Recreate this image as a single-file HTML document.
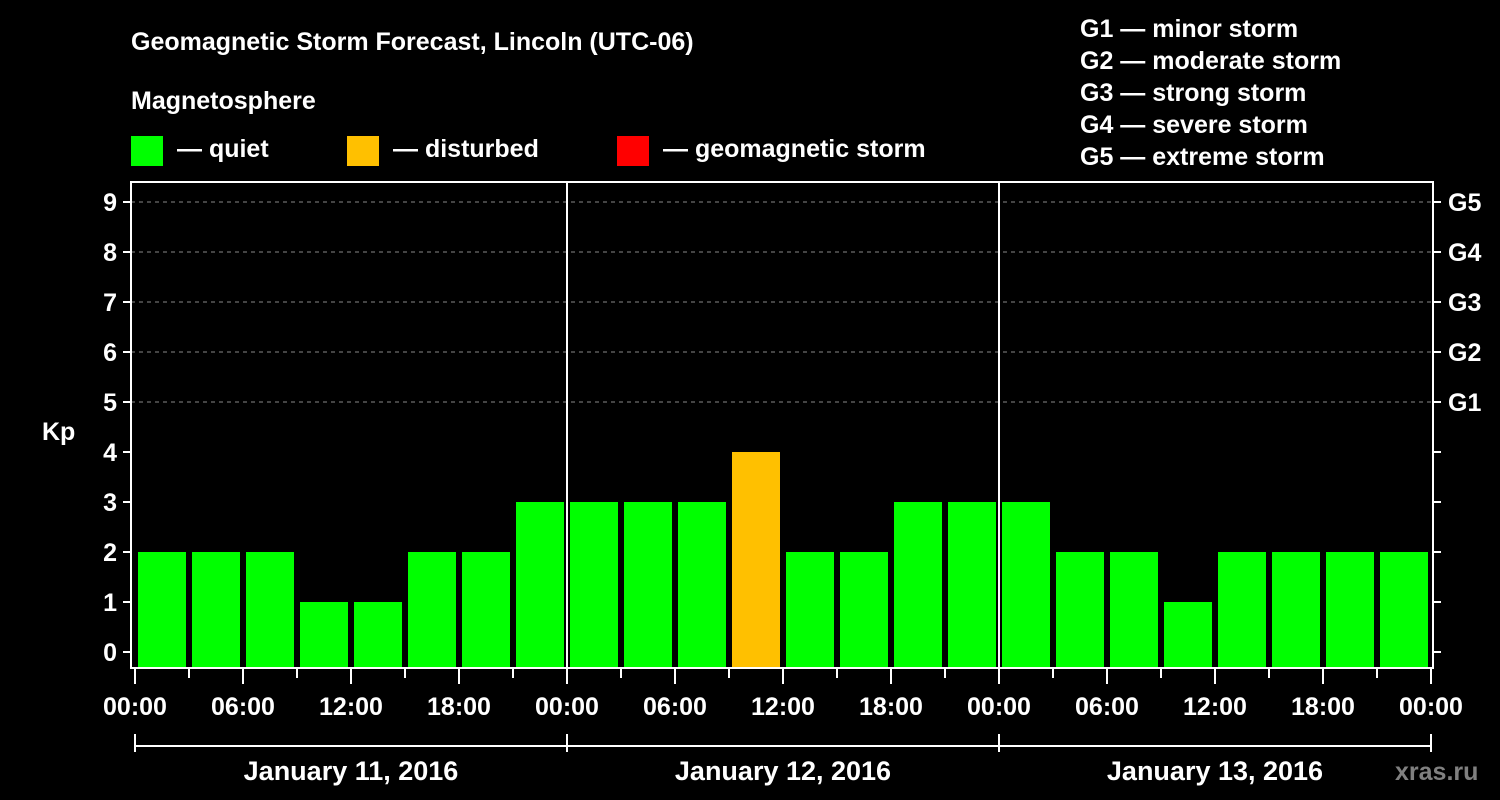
<!DOCTYPE html>
<html><head><meta charset="utf-8"><style>
body{margin:0;background:#000;}
svg{display:block;font-family:"Liberation Sans",Arial,sans-serif;font-weight:bold;fill:#fff}
</style></head><body>
<svg id="c" width="1500" height="800" viewBox="0 0 1500 800">
<rect width="1500" height="800" fill="#000"/>
<text x="131" y="50" font-size="25">Geomagnetic Storm Forecast, Lincoln (UTC-06)</text>
<text x="131" y="109" font-size="25">Magnetosphere</text>
<g><rect x="131" y="136" width="32" height="30" fill="#00ff00"/><text x="177" y="157" font-size="25">— quiet</text></g>
<g><rect x="347" y="136" width="32" height="30" fill="#ffc000"/><text x="393" y="157" font-size="25">— disturbed</text></g>
<g><rect x="617" y="136" width="32" height="30" fill="#ff0000"/><text x="663" y="157" font-size="25">— geomagnetic storm</text></g>
<g font-size="25">
<text x="1080" y="37">G1 — minor storm</text>
<text x="1080" y="69">G2 — moderate storm</text>
<text x="1080" y="101">G3 — strong storm</text>
<text x="1080" y="133">G4 — severe storm</text>
<text x="1080" y="165">G5 — extreme storm</text>
</g>
<text x="42" y="440" font-size="25">Kp</text>
<text x="1395" y="780" font-size="25" fill="#888" style="fill:#808080">xras.ru</text>
<g id="grid"></g><g id="bars"></g><g id="axes"></g>
</svg>
<script>
const kpValues=[2,2,2,1,1,2,2,3, 3,3,3,4,2,2,3,3, 3,2,2,1,2,2,2,2];
const yTicks=[0,1,2,3,4,5,6,7,8,9];
const gLabels=["G1","G2","G3","G4","G5"];
const xTickLabels=["00:00","06:00","12:00","18:00","00:00","06:00","12:00","18:00","00:00","06:00","12:00","18:00","00:00"];
const dayLabels=["January 11, 2016","January 12, 2016","January 13, 2016"];
const NS="http://www.w3.org/2000/svg";
const L=131,R=1433,T=182,B=668,X0=135,STEP=54;
const y=v=>652-v*50;
const x=i=>X0+i*STEP;
function mk(tag,attrs,parent,txt){const e=document.createElementNS(NS,tag);for(const k in attrs)e.setAttribute(k,attrs[k]);if(txt!=null)e.textContent=txt;document.getElementById(parent).appendChild(e);return e;}
yTicks.forEach(v=>{if(v>=5){const l=mk('line',{x1:L,x2:R,y1:y(v),y2:y(v),stroke:'#888','stroke-dasharray':'4,4','stroke-width':1},'grid');

}});
kpValues.forEach((v,i)=>{const col=v>=5?'#ff0000':(v>=4?'#ffc000':'#00ff00');
const r=mk('rect',{x:x(i)+3,y:y(v),width:STEP-6,height:B-y(v),fill:col},'bars');

});
const ax='axes';
const f=mk('rect',{x:L,y:T,width:R-L,height:B-T,fill:'none',stroke:'#fff','stroke-width':2},ax);


[1,2].forEach(d=>{const l=mk('line',{x1:x(d*8),x2:x(d*8),y1:T,y2:B,stroke:'#fff','stroke-width':2},ax);

});
yTicks.forEach(v=>{
mk('line',{x1:L-8,x2:L,y1:y(v),y2:y(v),stroke:'#fff','stroke-width':2},ax);
mk('line',{x1:R,x2:R+8,y1:y(v),y2:y(v),stroke:'#fff','stroke-width':2},ax);
const t=mk('text',{x:L-14,y:y(v)+9,'font-size':25,'text-anchor':'end'},ax,String(v));

});
gLabels.forEach((g,i)=>{const t=mk('text',{x:1448,y:y(i+5)+9,'font-size':25},ax,g);

});
for(let i=0;i<=24;i++){const maj=i%2==0;mk('line',{x1:x(i),x2:x(i),y1:B,y2:B+(maj?16:10),stroke:'#fff','stroke-width':2},ax);}
xTickLabels.forEach((s,i)=>{const t=mk('text',{x:x(i*2),y:715,'font-size':25,'text-anchor':'middle'},ax,s);

});
mk('line',{x1:x(0),x2:x(24),y1:746,y2:746,stroke:'#fff','stroke-width':2},ax);
[0,8,16,24].forEach(i=>mk('line',{x1:x(i),x2:x(i),y1:734,y2:752,stroke:'#fff','stroke-width':2},ax));
dayLabels.forEach((s,d)=>{const t=mk('text',{x:x(d*8+4),y:780,'font-size':27,'text-anchor':'middle'},ax,s);

});
</script>
</body></html>
